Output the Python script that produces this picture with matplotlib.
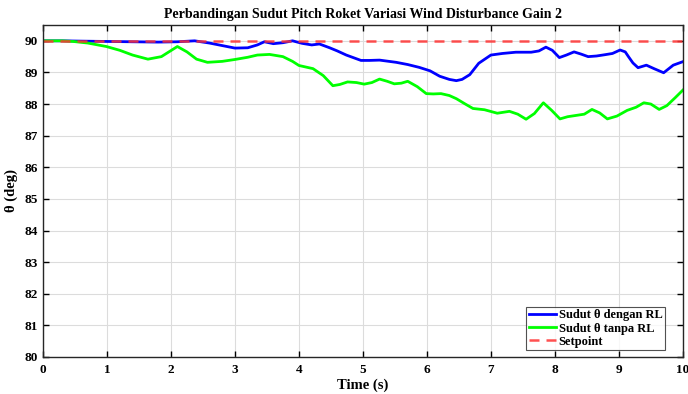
import matplotlib
matplotlib.use("Agg")
import matplotlib.pyplot as plt
import numpy as np

plt.rcParams['font.family'] = ['Liberation Serif', 'DejaVu Serif']
plt.rcParams['font.weight'] = 'bold'

# sudut pitch dengan RL (biru)
t_rl = [0, 0.3, 0.6, 1.0, 1.4, 1.8, 2.1, 2.37, 2.6, 2.8, 3.0, 3.2, 3.35, 3.46, 3.6,
        3.75, 3.9, 4.05, 4.2, 4.32, 4.48, 4.6, 4.74, 4.97, 5.1, 5.26, 5.52, 5.7, 5.88,
        6.05, 6.2, 6.35, 6.46, 6.55, 6.67, 6.81, 7.0, 7.18, 7.39, 7.63, 7.75, 7.86,
        7.96, 8.07, 8.18, 8.3, 8.41, 8.52, 8.65, 8.78, 8.9, 9.02, 9.1, 9.15, 9.22,
        9.3, 9.43, 9.55, 9.7, 9.85, 10.0]
theta_rl = [90.0, 90.0, 89.99, 89.98, 89.97, 89.96, 89.97, 90.0, 89.93, 89.85, 89.77,
            89.78, 89.87, 89.97, 89.91, 89.94, 90.0, 89.92, 89.87, 89.9, 89.78, 89.68,
            89.55, 89.38, 89.38, 89.39, 89.32, 89.25, 89.16, 89.05, 88.88, 88.78, 88.74,
            88.78, 88.93, 89.29, 89.55, 89.6, 89.64, 89.64, 89.68, 89.8, 89.7, 89.47,
            89.55, 89.65, 89.58, 89.5, 89.52, 89.56, 89.6, 89.71, 89.65, 89.5, 89.3,
            89.15, 89.23, 89.12, 88.99, 89.23, 89.34]

# sudut pitch tanpa RL (hijau)
t_no = [0, 0.3, 0.47, 0.7, 0.99, 1.2, 1.4, 1.64, 1.85, 2.1, 2.25, 2.4, 2.57, 2.8,
        3.0, 3.2, 3.35, 3.54, 3.75, 3.9, 4.0, 4.22, 4.38, 4.53, 4.64, 4.76, 4.9,
        5.02, 5.14, 5.26, 5.38, 5.49, 5.6, 5.7, 5.85, 5.99, 6.1, 6.22, 6.35, 6.46,
        6.6, 6.72, 6.9, 7.1, 7.29, 7.42, 7.55, 7.68, 7.82, 7.95, 8.08, 8.2, 8.33,
        8.46, 8.58, 8.7, 8.82, 8.97, 9.13, 9.27, 9.39, 9.5, 9.63, 9.75, 9.88, 10.0]
theta_no = [90.0, 90.0, 89.98, 89.93, 89.82, 89.7, 89.55, 89.42, 89.5, 89.82, 89.65,
            89.42, 89.32, 89.35, 89.41, 89.48, 89.55, 89.57, 89.5, 89.35, 89.22, 89.12,
            88.9, 88.58, 88.62, 88.7, 88.68, 88.63, 88.68, 88.79, 88.72, 88.64, 88.66,
            88.72, 88.55, 88.33, 88.32, 88.33, 88.27, 88.17, 88.0, 87.86, 87.82, 87.71,
            87.77, 87.68, 87.52, 87.7, 88.04, 87.8, 87.53, 87.6, 87.64, 87.68, 87.83,
            87.72, 87.53, 87.62, 87.8, 87.9, 88.04, 88.0, 87.83, 87.95, 88.2, 88.44]

setpoint = 90

fig = plt.figure(figsize=(6.88, 3.94), dpi=100)
ax = fig.add_axes([0.0625, 0.094, 0.93, 0.8425])

ax.plot(t_rl, theta_rl, color='#0000ff', lw=2, label='Sudut θ dengan RL')
ax.plot(t_no, theta_no, color='#00ff00', lw=2, label='Sudut θ tanpa RL')
ax.plot([0, 10], [setpoint, setpoint], color='#ff3333', alpha=0.85, lw=1.8,
        dashes=(4, 2.8), label='Setpoint')

ax.set_xlim(0, 10)
ax.set_ylim(80, 90.5)
ax.set_xticks(np.arange(0, 11, 1))
ax.set_yticks(np.arange(80, 91, 1))
ax.grid(True, color='#dcdcdc', lw=0.8)
ax.tick_params(direction='in', top=True, right=True, labelsize=9.5, length=4, width=1)
ax.tick_params(axis='x', pad=5)
for s in ax.spines.values():
    s.set_linewidth(1)
    s.set_color('#262626')

ax.set_title('Perbandingan Sudut Pitch Roket Variasi Wind Disturbance Gain 2',
             fontsize=10, fontweight='bold', pad=5)
ax.set_xlabel('Time (s)', fontsize=10.5, fontweight='bold', labelpad=2)
ax.set_ylabel('θ (deg)', fontsize=10.5, fontweight='bold', labelpad=5)

leg = ax.legend(loc='lower right', bbox_to_anchor=(0.972, 0.02), fontsize=9,
                frameon=True, fancybox=False, borderpad=0.2, labelspacing=0.1,
                handlelength=2.2, handletextpad=0.2, borderaxespad=0)
leg.get_frame().set_edgecolor('#262626')
leg.get_frame().set_linewidth(0.8)

fig.savefig('out.png', dpi=100)
